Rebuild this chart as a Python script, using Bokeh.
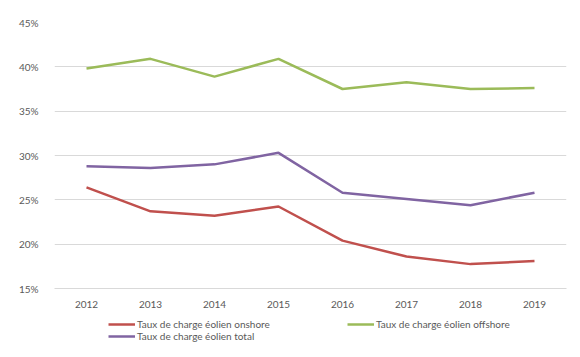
from bokeh.plotting import figure
from bokeh.layouts import column
from bokeh.models import Legend, LegendItem, NumeralTickFormatter, FixedTicker, Range1d
from bokeh.embed import file_html
from bokeh.resources import INLINE

years = ["2012", "2013", "2014", "2015", "2016", "2017", "2018", "2019"]
onshore = [0.264, 0.237, 0.232, 0.2425, 0.204, 0.186, 0.1775, 0.181]
offshore = [0.398, 0.409, 0.389, 0.409, 0.375, 0.3825, 0.375, 0.376]
total = [0.288, 0.286, 0.290, 0.303, 0.258, 0.251, 0.244, 0.258]
labels = ["Taux de charge éolien onshore", "Taux de charge éolien offshore", "Taux de charge éolien total"]
colors = ["#C0504D", "#9BBB59", "#8064A2"]
yticks = [0.15, 0.20, 0.25, 0.30, 0.35, 0.40, 0.45]

FONT = "Lato"

p = figure(width=580, height=312, x_range=years, y_range=(0.15, 0.45),
           output_backend="svg", toolbar_location=None,
           min_border_left=54, min_border_right=14, min_border_top=22, min_border_bottom=24)
p.x_range.range_padding = 0
p.outline_line_color = None
p.background_fill_color = "white"
p.border_fill_color = "white"

for vals, c in zip([onshore, offshore, total], colors):
    p.line(years, vals, line_color=c, line_width=2.5)

p.xgrid.grid_line_color = None
p.ygrid.grid_line_color = "#D9D9D9"
p.ygrid.grid_line_width = 1
p.yaxis.ticker = FixedTicker(ticks=yticks)
p.yaxis.formatter = NumeralTickFormatter(format="0%")
for ax in (p.xaxis, p.yaxis):
    ax.major_tick_line_color = None
    ax.minor_tick_line_color = None
    ax.major_label_text_font = FONT
    ax.major_label_text_font_size = "10px"
    ax.major_label_text_color = "#595959"
p.yaxis.axis_line_color = None
p.xaxis.axis_line_color = "#D9D9D9"
p.xaxis.major_label_standoff = 6
p.yaxis.major_label_standoff = 10

# legend figure (its dummy lines lie outside the visible range)
lg = figure(width=580, height=45, x_range=Range1d(0, 1), y_range=Range1d(0, 1),
            output_backend="svg", toolbar_location=None,
            min_border_left=54, min_border_right=14, min_border_top=0, min_border_bottom=0)
lg.axis.visible = False
lg.grid.visible = False
lg.outline_line_color = None
lg.border_fill_color = "white"
lg.background_fill_color = "white"
dummies = [lg.line([5, 6], [5, 6], line_color=c, line_width=2.5) for c in colors]

legend = Legend(items=[LegendItem(label=l, renderers=[r]) for l, r in zip(labels, dummies)],
                orientation="horizontal", ncols=2, location=(54, 15))
legend.glyph_width = 27
legend.glyph_height = 12
legend.label_standoff = 2
legend.spacing = 0
legend.label_width = 210
legend.label_height = 12
legend.padding = 0
legend.margin = 0
legend.border_line_color = None
legend.background_fill_alpha = 0
legend.label_text_font = FONT
legend.label_text_font_size = "10px"
legend.label_text_color = "#595959"
lg.add_layout(legend, "center")

layout = column(p, lg, spacing=0)
open("out.html", "w").write(file_html(layout, INLINE))
